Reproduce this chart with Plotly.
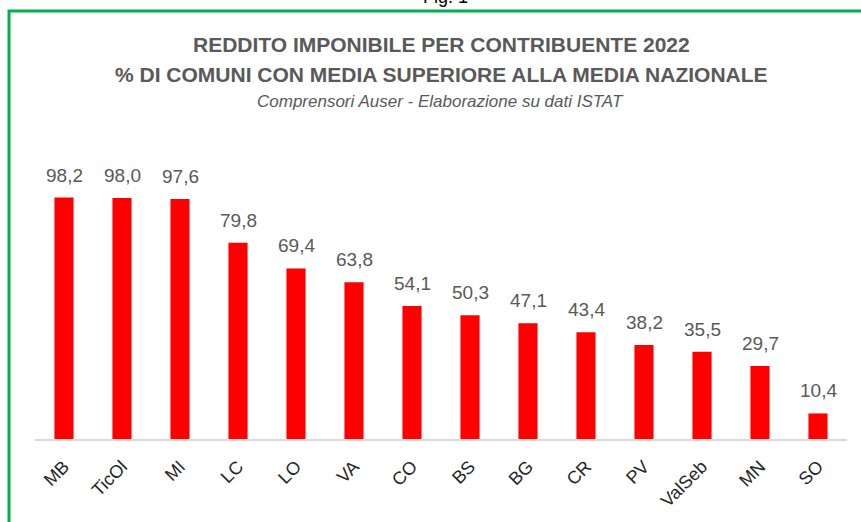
import plotly.graph_objects as go

categories = ["MB", "TicOl", "MI", "LC", "LO", "VA", "CO", "BS", "BG", "CR", "PV", "ValSeb", "MN", "SO"]
values = [98.2, 98.0, 97.6, 79.8, 69.4, 63.8, 54.1, 50.3, 47.1, 43.4, 38.2, 35.5, 29.7, 10.4]

title_line1 = "REDDITO IMPONIBILE PER CONTRIBUENTE 2022"
title_line2 = "% DI COMUNI CON MEDIA SUPERIORE ALLA MEDIA NAZIONALE"
subtitle = "Comprensori Auser - Elaborazione su dati ISTAT"

W, H = 861, 522
L, R, T, B = 35, 14, 144, 83
plot_h = H - T - B
plot_w = W - L - R


def py(pix):
    return (H - B - pix) / plot_h


def px(pix):
    return (pix - L) / plot_w


fig = go.Figure(go.Bar(
    x=categories, y=values, width=0.33,
    marker=dict(color="#FF0000", line=dict(width=0)),
    hoverinfo="skip",
))

annotations = []
for c, v in zip(categories, values):
    annotations.append(dict(
        x=c, y=v, xref="x", yref="y", text=f"{v:.1f}".replace(".", ","),
        showarrow=False, yanchor="bottom", yshift=10,
        font=dict(family="Liberation Sans, Arial, sans-serif", size=19, color="#595959"),
    ))

title_font = dict(family="Liberation Sans Narrow, Arial Narrow, sans-serif", size=21, color="#595959")
annotations += [
    dict(text="<b>" + title_line1 + "</b>", x=px(441), y=py(45), xref="paper", yref="paper",
         showarrow=False, xanchor="center", yanchor="middle", font=title_font),
    dict(text="<b>" + title_line2 + "</b>", x=px(441), y=py(75), xref="paper", yref="paper",
         showarrow=False, xanchor="center", yanchor="middle", font=title_font),
    dict(text="<i>" + subtitle + "</i>", x=px(440), y=py(101), xref="paper", yref="paper",
         showarrow=False, xanchor="center", yanchor="middle",
         font=dict(family="Liberation Sans Narrow, Arial Narrow, sans-serif", size=17, color="#595959")),
    dict(text="Fig. 1", x=px(445), y=py(-3), xref="paper", yref="paper",
         showarrow=False, xanchor="center", yanchor="middle",
         font=dict(family="Liberation Sans, Arial, sans-serif", size=18, color="#000000")),
]

fig.update_layout(
    width=W, height=H,
    margin=dict(l=L, r=R, t=T, b=B, pad=0, autoexpand=False),
    paper_bgcolor="white", plot_bgcolor="white",
    showlegend=False,
    annotations=annotations,
    shapes=[dict(type="rect", xref="paper", yref="paper",
                 x0=px(9), x1=px(900), y0=py(600), y1=py(11),
                 line=dict(color="#00B050", width=3), fillcolor="rgba(0,0,0,0)", layer="above")],
    xaxis=dict(type="category", tickangle=-45, showline=True, linecolor="#D9D9D9", linewidth=2,
               showgrid=False, ticks="", zeroline=False, automargin=False, ticklabelstandoff=8,
               tickfont=dict(family="Liberation Sans, Arial, sans-serif", size=18, color="#262626")),
    yaxis=dict(range=[0, 120], visible=False, showgrid=False, zeroline=False, automargin=False),
)

fig.write_html("out.html", config={"displayModeBar": False},
               post_script="document.body.style.margin='0px';")
